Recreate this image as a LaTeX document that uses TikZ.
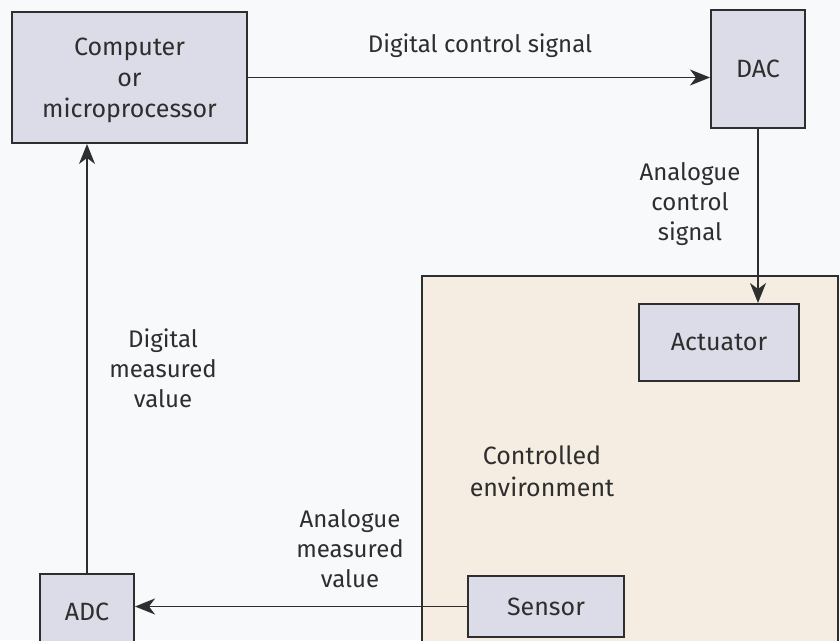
\documentclass[tikz,border=0pt]{standalone}
\usepackage{fontspec}
\setmainfont{Fira Sans}
\usetikzlibrary{arrows.meta}
\definecolor{bg}{HTML}{F7F9FB}
\definecolor{boxfill}{HTML}{DCDCE8}
\definecolor{envfill}{HTML}{F5EDE2}
\definecolor{ink}{HTML}{2E2E2E}
\tikzset{
  blk/.style={draw=ink, line width=2pt, fill=boxfill, rectangle, inner sep=0pt, align=center, text=ink, font=\fontsize{25}{31}\selectfont},
  lbl/.style={align=center, text=ink, inner sep=0pt, font=\fontsize{24}{30}\selectfont},
  arr/.style={draw=ink, line width=1.8pt, -{Stealth[length=20pt,width=16pt,inset=6pt]}},
}
\begin{document}
\begin{tikzpicture}[x=1pt,y=-1pt]
\useasboundingbox (0,0) rectangle (840,640);
\fill[bg] (0,0) rectangle (840,640);
\begin{scope}
\clip (0,0) rectangle (840,640);
\draw[ink, line width=2pt, fill=envfill] (422,276) rectangle (838,680);
\node[lbl, font=\fontsize{25}{32}\selectfont] (envlbl) at (542,471) {Controlled\\environment};
\node[blk, minimum width=235pt, minimum height=131pt] (comp) at (129.5,77.5) {};
\node[lbl, font=\fontsize{25}{31}\selectfont] (comptext) at (129.5,80) {Computer\\or\\microprocessor};
\node[blk, minimum width=94pt, minimum height=118pt] (dac) at (758,69) {DAC};
\node[blk, minimum width=160pt, minimum height=77pt] (act) at (719,342.5) {Actuator};
\node[blk, minimum width=156pt, minimum height=61pt] (sen) at (546,606.5) {Sensor};
\node[blk, minimum width=94pt, minimum height=76pt] (adc) at (87,612) {ADC};
\end{scope}
\draw[arr] (comp.east) -- (dac.west |- comp.east);
\draw[arr] (dac.south) -- (dac.south |- act.north);
\draw[arr] (sen.west) -- (adc.east |- sen.west);
\draw[arr] (adc.north) -- (adc.north |- comp.south);
\node[lbl] (l1) at (480,46) {Digital control signal};
\node[lbl] (l2) at (690,204) {Analogue\\control\\signal};
\node[lbl] (l3) at (163,368) {Digital\\measured\\value};
\node[lbl] (l4) at (350,549) {Analogue\\measured\\value};
\end{tikzpicture}
\end{document}
